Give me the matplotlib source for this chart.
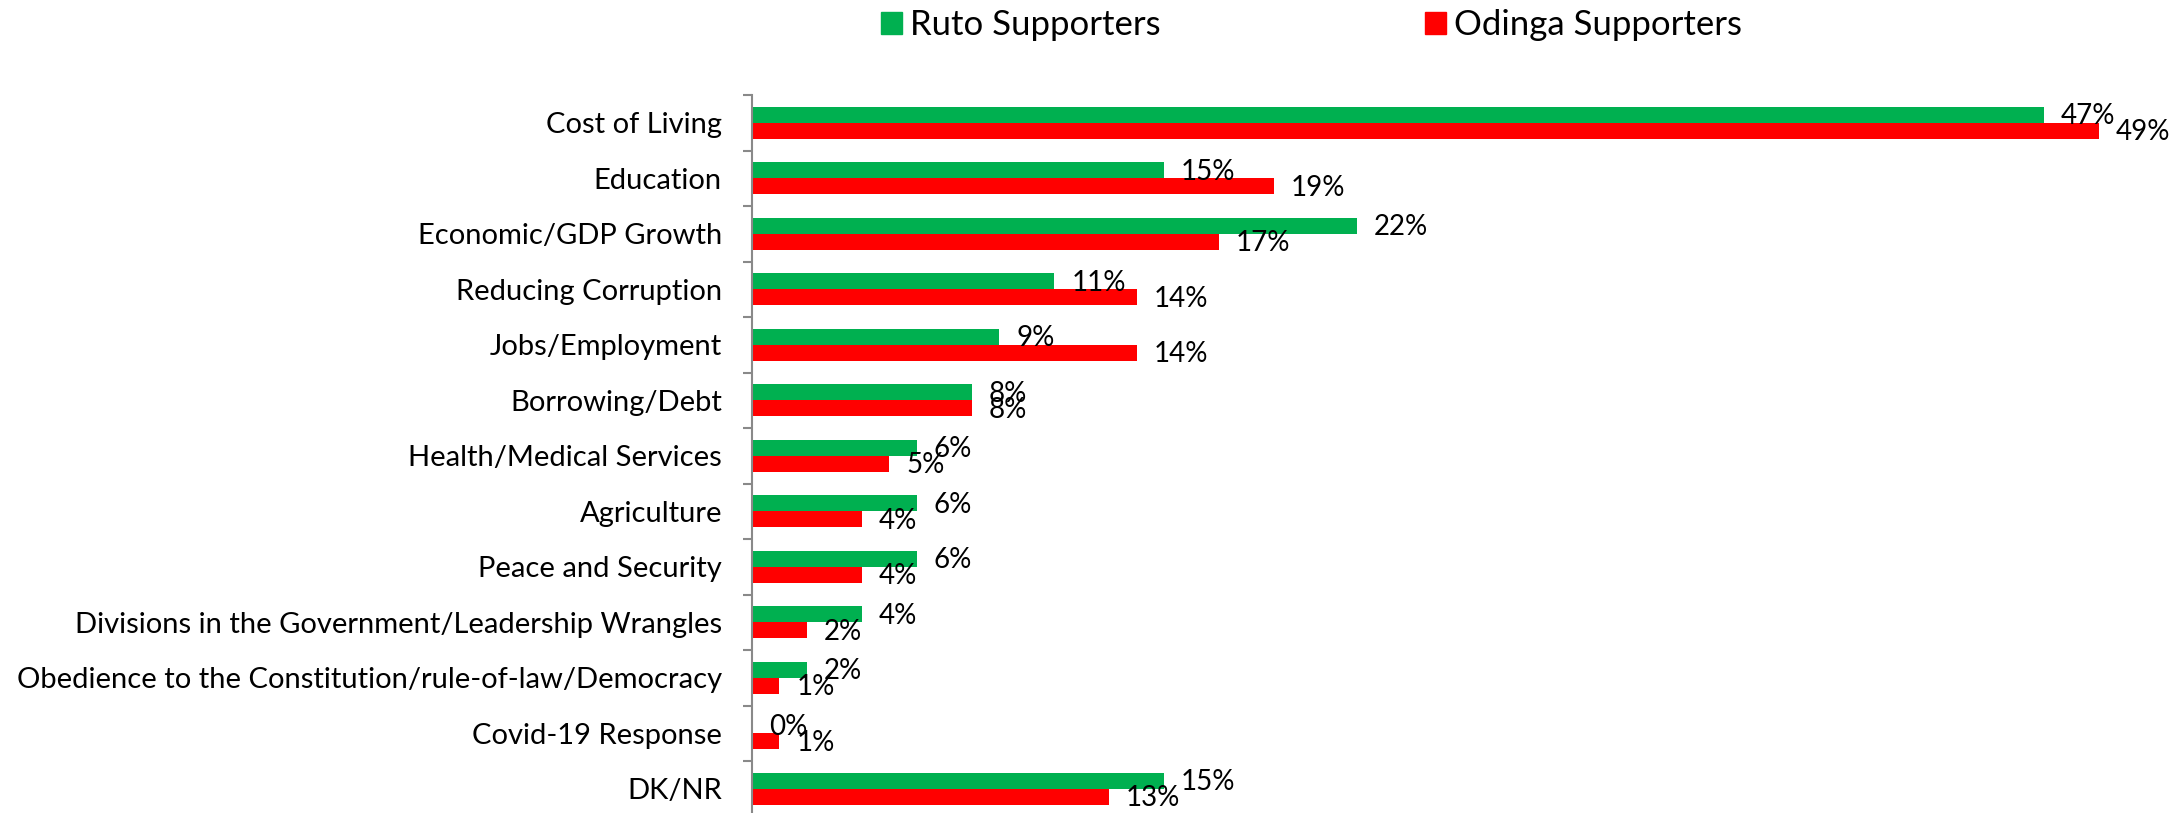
import matplotlib.pyplot as plt
from matplotlib.patches import Patch
from matplotlib.ticker import FixedLocator
import numpy as np

plt.rcParams['font.family'] = ['Lato', 'DejaVu Sans']

issues = ['Cost of Living', 'Education', 'Economic/GDP Growth', 'Reducing Corruption',
          'Jobs/Employment', 'Borrowing/Debt', 'Health/Medical Services', 'Agriculture',
          'Peace and Security', 'Divisions in the Government/Leadership Wrangles',
          'Obedience to the Constitution/rule-of-law/Democracy', 'Covid-19 Response', 'DK/NR']
ruto = [47, 15, 22, 11, 9, 8, 6, 6, 6, 4, 2, 0, 15]
odinga = [49, 19, 17, 14, 14, 8, 5, 4, 4, 2, 1, 1, 13]

green = '#00B050'
red = '#FF0000'
grey = '#898989'

fig = plt.figure(figsize=(21.84, 8.13), dpi=100)
ax = fig.add_axes([0.3443, -0.0043, 0.6292, 0.8874])

y = np.arange(len(issues))
h = 0.29
b1 = ax.barh(y - h / 2, ruto, height=h, color=green)
b2 = ax.barh(y + h / 2, odinga, height=h, color=red)

# percentage labels just past the end of each bar
for bars, vals in [(b1, ruto), (b2, odinga)]:
    for bar, v in zip(bars, vals):
        ax.annotate(f'{v}%', (v, bar.get_y() + bar.get_height() / 2),
                    xytext=(12.2, -1), textcoords='offset points',
                    ha='left', va='center', fontsize=20)

ax.set_xlim(0, 50)
ax.set_ylim(len(issues) - 0.5, -0.5)

ax.set_yticks(y)
ax.set_yticklabels(issues, fontsize=21)
ax.tick_params(axis='y', which='major', length=0, pad=21.6)
ax.yaxis.set_minor_locator(FixedLocator(np.arange(-0.5, len(issues), 1)))
ax.tick_params(axis='y', which='minor', length=6.5, width=1.5, color=grey)
ax.xaxis.set_visible(False)

for s in ['top', 'right', 'bottom']:
    ax.spines[s].set_visible(False)
ax.spines['left'].set_color(grey)
ax.spines['left'].set_linewidth(1.5)

handles = [Patch(color=green, label='Ruto Supporters'),
           Patch(color=red, label='Odinga Supporters')]
fig.legend(handles=handles, loc='center', bbox_to_anchor=(0.6005, 0.969), ncol=2,
           frameon=False, fontsize=25, handlelength=0.6, handleheight=0.6,
           handletextpad=0.25, columnspacing=7.6)

fig.savefig('out.png', dpi=100)
